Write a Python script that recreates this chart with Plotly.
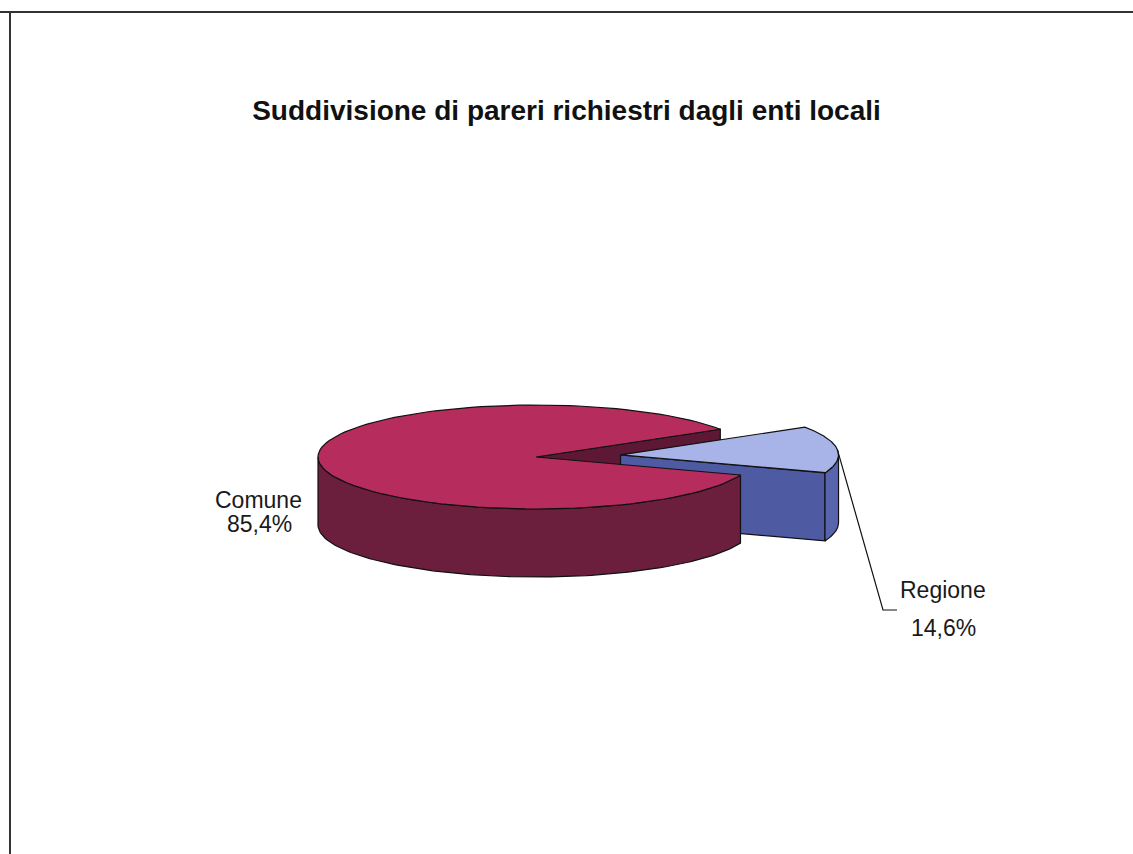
import numpy as np
import plotly.graph_objects as go

# ---------------- data ----------------
labels = ["Comune", "Regione"]
values = [85.4, 14.6]
value_text = ["85,4%", "14,6%"]
title_text = "Suddivisione di pareri richiestri dagli enti locali"

# ---------------- style ----------------
top_colors = ["#B62D5D", "#A8B4E8"]
side_colors = ["#6C1F3C", "#5864AE"]
face_colors = ["#5C1834", "#4E5AA2"]

W, H = 1133, 854
CX, CY = 536, 457          # centre of the top ellipse (pixel-like data units)
RX, RY = 218, 52           # ellipse radii
DEPTH = 68                 # thickness of the pie
EXPLODE = [0, 85]          # explode distance per slice
MID_SMALL = 6.0            # mid angle (deg) of the small slice

# angles of slices (counter-clockwise, degrees)
total = sum(values)
spans = [360.0 * v / total for v in values]
a0_reg = MID_SMALL - spans[1] / 2
ranges = [(a0_reg + spans[1], a0_reg + 360.0), (a0_reg, a0_reg + spans[1])]


def offset(i):
    a0, a1 = ranges[i]
    mid = np.radians((a0 + a1) / 2)
    return EXPLODE[i] * np.cos(mid), -EXPLODE[i] * np.sin(mid) * RY / RX


def pt(theta_deg, z, i):
    dx, dy = offset(i)
    t = np.radians(theta_deg)
    return CX + dx + RX * np.cos(t), CY + dy - RY * np.sin(t) + z


def arc(a, b, z, i, n=120):
    ts = np.linspace(a, b, n)
    xs, ys = zip(*[pt(t, z, i) for t in ts])
    return list(xs), list(ys)


def visible_side(a0, a1):
    out = []
    for k in range(-2, 3):
        lo, hi = 180 + 360 * k, 360 + 360 * k
        s, e = max(a0, lo), min(a1, hi)
        if e > s:
            out.append((s, e))
    return out


fig = go.Figure()


def poly(xs, ys, color):
    fig.add_trace(go.Scatter(
        x=xs + [xs[0]], y=ys + [ys[0]], mode="lines", fill="toself",
        fillcolor=color, line=dict(color="#111111", width=1.2),
        hoverinfo="skip", showlegend=False))


# radial faces (drawn first, behind everything else)
for i in range(len(values)):
    a0, a1 = ranges[i]
    cx0, cy0 = CX + offset(i)[0], CY + offset(i)[1]
    for ang, vis in ((a0, np.cos(np.radians(a0)) > 0), (a1, np.cos(np.radians(a1)) < 0)):
        if vis:
            ex, ey = pt(ang, 0, i)
            ex2, ey2 = pt(ang, DEPTH, i)
            poly([cx0, ex, ex2, cx0], [cy0, ey, ey2, cy0 + DEPTH], face_colors[i])

# exploded slices are farther back, so draw them first
order = sorted(range(len(values)), key=lambda i: -EXPLODE[i])
for i in order:
    a0, a1 = ranges[i]
    for s, e in visible_side(a0, a1):
        tx, ty = arc(s, e, 0, i)
        bx, by = arc(s, e, DEPTH, i)
        poly(tx + bx[::-1], ty + by[::-1], side_colors[i])
    cx0, cy0 = CX + offset(i)[0], CY + offset(i)[1]
    tx, ty = arc(a0, a1, 0, i)
    poly([cx0] + tx, [cy0] + ty, top_colors[i])

# leader line for the small slice
a0, a1 = ranges[1]
lx, ly = pt((a0 + a1) / 2, 0, 1)
fig.add_trace(go.Scatter(x=[lx, 883, 897], y=[ly, 610, 610], mode="lines",
                         line=dict(color="#111111", width=1.2),
                         hoverinfo="skip", showlegend=False))

label_font = dict(family="Liberation Sans, Arial, sans-serif", size=23, color="#1a1a1a")
annots = [
    dict(x=258, y=500, text=labels[0]),
    dict(x=259, y=524, text=value_text[0]),
    dict(x=943, y=590, text=labels[1]),
    dict(x=943, y=628, text=value_text[1]),
]
for a in annots:
    a.update(xref="x", yref="y", showarrow=False, font=label_font,
             xanchor="center", yanchor="middle")

fig.update_layout(
    width=W, height=H,
    margin=dict(l=0, r=0, t=0, b=0),
    paper_bgcolor="white", plot_bgcolor="white",
    showlegend=False,
    title=dict(text="<b>" + title_text + "</b>", x=0.5, xanchor="center",
               y=1 - 110 / H, yanchor="middle",
               font=dict(family="Liberation Sans Narrow, Arial Narrow, Liberation Sans, Arial",
                         size=28, color="#111111")),
    xaxis=dict(range=[0, W], visible=False, fixedrange=True),
    yaxis=dict(range=[H, 0], visible=False, fixedrange=True),
    annotations=annots,
    shapes=[
        dict(type="line", xref="paper", yref="paper", x0=0, x1=1,
             y0=1 - 12 / H, y1=1 - 12 / H, line=dict(color="#333333", width=2)),
        dict(type="line", xref="paper", yref="paper", x0=10 / W, x1=10 / W,
             y0=0, y1=1 - 12 / H, line=dict(color="#333333", width=2)),
    ],
)

fig.write_html("out.html")
